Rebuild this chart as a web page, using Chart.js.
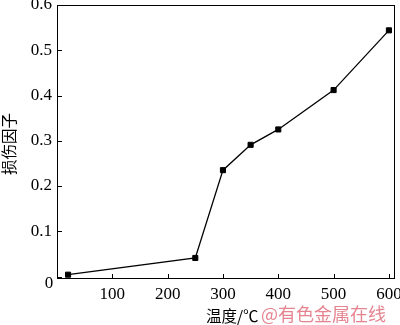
<!DOCTYPE html>
<html>
<head>
<meta charset="utf-8">
<script src="https://cdn.jsdelivr.net/npm/chart.js@4/dist/chart.umd.min.js"></script>
<style>
html,body{margin:0;padding:0;background:#fff;}
#wrap{width:400px;height:325px;position:relative;}
</style>
</head>
<body>
<div id="wrap"><canvas id="c" width="400" height="325"></canvas></div>
<script>
// Data
const temperatures = [20, 250, 300, 350, 400, 500, 600];
const damageFactor = [0.004, 0.041, 0.235, 0.291, 0.325, 0.412, 0.544];
const xTicks = [0, 100, 200, 300, 400, 500, 600];
const yTicks = [0, 0.1, 0.2, 0.3, 0.4, 0.5, 0.6];
const xTitle = '温度/℃';
const yTitle = '损伤因子';
const watermark = '@有色金属在线';

const serif = '"Liberation Serif", "Times New Roman", serif';
const cjk = '"Noto Sans CJK SC", "Noto Sans", sans-serif';

const framePlugin = {
  id: 'frame',
  afterDraw(chart) {
    const ctx = chart.ctx;
    const a = chart.chartArea;
    const xs = chart.scales.x, ys = chart.scales.y;
    ctx.save();
    ctx.strokeStyle = '#000';
    ctx.lineWidth = 1;
    ctx.strokeRect(Math.round(a.left) + 0.5, Math.round(a.top) + 0.5,
                   Math.round(a.right - a.left) - 1, Math.round(a.bottom - a.top) - 1);
    // inward ticks
    ctx.beginPath();
    xTicks.forEach(v => {
      const px = Math.round(xs.getPixelForValue(v)) + 0.5;
      ctx.moveTo(px, a.bottom);
      ctx.lineTo(px, a.bottom - 5);
    });
    yTicks.forEach(v => {
      const py = Math.round(ys.getPixelForValue(v)) + 0.5;
      ctx.moveTo(a.left, py);
      ctx.lineTo(a.left + 5, py);
    });
    ctx.stroke();
    // origin label
    ctx.fillStyle = '#000';
    ctx.font = '17px ' + serif;
    ctx.textAlign = 'center';
    ctx.textBaseline = 'middle';
    ctx.fillText('0', 49, 284);
    // axis titles
    ctx.font = '15.5px ' + cjk;
    ctx.textAlign = 'left';
    ctx.fillText(xTitle, 206, 316);
    ctx.fillStyle = 'rgba(225,110,125,0.85)';
    ctx.font = '18px ' + cjk;
    ctx.fillText(watermark, 261, 314);
    ctx.fillStyle = '#000';
    ctx.save();
    ctx.translate(9, 144);
    ctx.rotate(-Math.PI / 2);
    ctx.textAlign = 'center';
    ctx.font = '15.5px ' + cjk;
    ctx.fillText(yTitle, 0, 0);
    ctx.restore();
    ctx.restore();
  }
};

new Chart(document.getElementById('c'), {
  type: 'line',
  data: {
    datasets: [{
      data: temperatures.map((t, i) => ({x: t, y: damageFactor[i]})),
      borderColor: '#000',
      backgroundColor: '#000',
      borderWidth: 1.3,
      pointStyle: 'rect',
      pointRadius: 3.6,
      pointBorderWidth: 1,
      pointBackgroundColor: '#000',
      pointBorderColor: '#000',
      tension: 0,
      fill: false
    }]
  },
  options: {
    responsive: false,
    animation: false,
    events: [],
    layout: {padding: {left: 0, top: 5, right: 5, bottom: 0}},
    plugins: {legend: {display: false}, tooltip: {enabled: false}},
    scales: {
      x: {
        type: 'linear',
        min: 0,
        max: 611,
        afterBuildTicks: s => { s.ticks = xTicks.map(v => ({value: v})); },
        afterFit: s => { s.height = 46; s.paddingLeft = 0; s.paddingRight = 0; },
        grid: {display: false, drawTicks: false},
        border: {display: false},
        ticks: {
          padding: 5,
          color: '#000',
          font: {family: serif, size: 17},
          maxRotation: 0,
          autoSkip: false,
          callback: v => (v === 0 ? '' : String(v))
        }
      },
      y: {
        type: 'linear',
        min: -0.0055,
        max: 0.6,
        afterBuildTicks: s => { s.ticks = yTicks.map(v => ({value: v})); },
        afterFit: s => { s.width = 57; s.paddingTop = 0; s.paddingBottom = 0; },
        grid: {display: false, drawTicks: false},
        border: {display: false},
        ticks: {
          padding: 5,
          color: '#000',
          font: {family: serif, size: 17},
          autoSkip: false,
          callback: v => (v === 0 ? '' : v.toFixed(1))
        }
      }
    }
  },
  plugins: [framePlugin]
});
</script>
</body>
</html>
